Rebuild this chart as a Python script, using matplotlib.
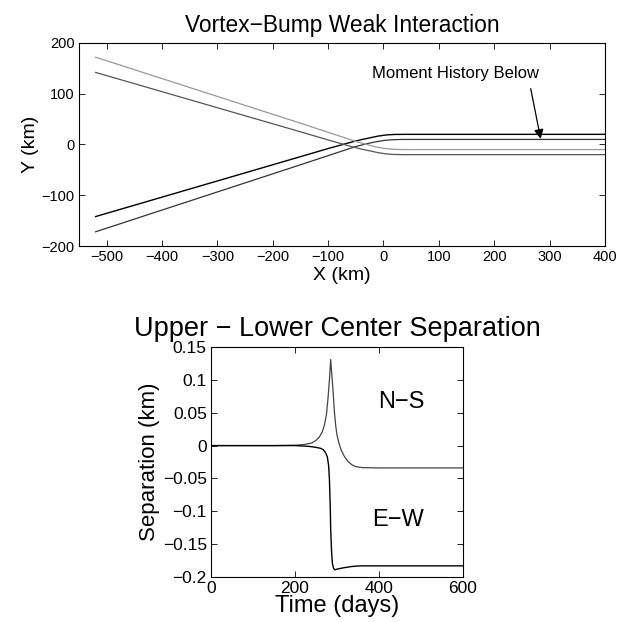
import matplotlib
matplotlib.use("Agg")
import matplotlib.pyplot as plt

plt.rcParams["font.family"] = ["Liberation Sans", "DejaVu Sans"]
plt.rcParams["axes.unicode_minus"] = True

# --- track data (X, Y in km) ---
track_a_x = [-520, -150, -100, -60, -40, -25, -10, 5, 20, 40, 400]
track_a_y = [-142, -24, -8, 4, 9.5, 13, 16.5, 18.8, 19.8, 20, 20]
track_b_x = [-520, -150, -100, -50, -30, -15, 0, 15, 30, 50, 400]
track_b_y = [-172, -40, -22, -4, 1.5, 5, 7.8, 9.3, 9.9, 10, 10]
track_c_x = [-520, -150, -100, -50, -30, -15, 0, 15, 30, 50, 400]
track_c_y = [172, 42, 24, 6, 0, -4.5, -7.5, -9.2, -9.9, -10, -10]
track_d_x = [-520, -150, -100, -60, -40, -25, -10, 5, 20, 40, 400]
track_d_y = [142, 25, 9, -3.5, -9, -12.5, -16, -18.6, -19.7, -20, -20]

# --- separation history (days, km) ---
ns_t = [0, 150, 200, 220, 240, 250, 258, 265, 270, 275, 279, 282, 285,
        288, 291, 294, 297, 300, 305, 310, 318, 326, 335, 345, 360, 400, 600]
ns_v = [0, 0, 0.0005, 0.0015, 0.004, 0.008, 0.013, 0.021, 0.031, 0.048,
        0.075, 0.1, 0.131, 0.105, 0.08, 0.05, 0.03, 0.016, 0.003, -0.007,
        -0.017, -0.024, -0.029, -0.032, -0.0335, -0.034, -0.034]
ew_t = [0, 200, 230, 244, 252, 260, 267, 272, 277, 280, 282, 284, 285,
        287, 289, 292, 295, 300, 315, 335, 355, 400, 600]
ew_v = [0, 0, -0.001, -0.002, -0.003, -0.004, -0.006, -0.01, -0.017,
        -0.03, -0.052, -0.095, -0.128, -0.16, -0.179, -0.187, -0.189,
        -0.188, -0.186, -0.184, -0.183, -0.183, -0.183]

fig = plt.figure(figsize=(6.18, 6.22), dpi=100)

# top panel: tracks
ax1 = fig.add_axes([0.1278, 0.6045, 0.851, 0.3264])
ax1.plot(track_a_x, track_a_y, color="black", lw=1.0)
ax1.plot(track_b_x, track_b_y, color="#333333", lw=0.9)
ax1.plot(track_c_x, track_c_y, color="#999999", lw=0.9)
ax1.plot(track_d_x, track_d_y, color="#555555", lw=0.9)
ax1.set_xlim(-550, 400)
ax1.set_ylim(-200, 200)
ax1.set_xticks(range(-500, 401, 100))
ax1.set_yticks(range(-200, 201, 100))
ax1.set_title("Vortex\u2212Bump Weak Interaction", fontsize=16.4, pad=8)
ax1.set_xlabel("X (km)", fontsize=14, labelpad=2)
ax1.set_ylabel("Y (km)", fontsize=14, labelpad=2)
ax1.text(131, 140, "Moment History Below", ha="center", va="center",
         fontsize=12)
ax1.annotate("", xy=(284, 11), xytext=(266, 110),
             arrowprops=dict(arrowstyle="-|>", color="black", lw=0.9,
                             shrinkA=0, shrinkB=0, mutation_scale=14))

# bottom panel: separation
ax2 = fig.add_axes([0.3414, 0.0723, 0.4078, 0.3698])
ax2.plot(ns_t, ns_v, color="#444444", lw=0.9)
ax2.plot(ew_t, ew_v, color="black", lw=1.0)
ax2.set_xlim(0, 600)
ax2.set_ylim(-0.2, 0.15)
ax2.set_xticks([0, 200, 400, 600])
yt = [-0.2, -0.15, -0.1, -0.05, 0, 0.05, 0.1, 0.15]
ax2.set_yticks(yt)
ax2.set_yticklabels(["\u22120.2", "\u22120.15", "\u22120.1", "\u22120.05",
                     "0", "0.05", "0.1", "0.15"])
ax2.set_title("Upper \u2212 Lower Center Separation", fontsize=19.5, pad=8)
ax2.set_xlabel("Time (days)", fontsize=17, labelpad=-1)
ax2.set_ylabel("Separation (km)", fontsize=16, labelpad=2)
ax2.text(454, 0.067, "N\u2212S", fontsize=17, ha="center", va="center")
ax2.text(446, -0.113, "E\u2212W", fontsize=17, ha="center", va="center")

for ax in (ax1, ax2):
    ax.tick_params(direction="in", top=True, right=True, length=4,
                   width=0.6, pad=3)
    for s in ax.spines.values():
        s.set_linewidth(0.8)
ax1.tick_params(labelsize=10.5)
ax2.tick_params(labelsize=12.5)

fig.savefig("out.png", dpi=100)
